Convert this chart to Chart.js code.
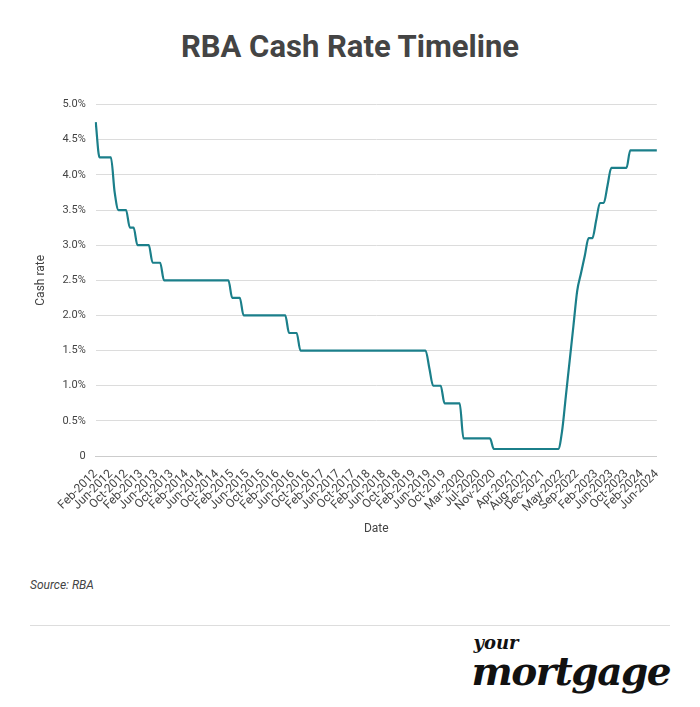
<!DOCTYPE html>
<html>
<head>
<meta charset="utf-8">
<script src="https://cdn.jsdelivr.net/npm/chart.js@4"></script>
<style>
  body { margin: 0; background: #fff; font-family: Roboto, sans-serif; }
  #wrap { width: 700px; height: 707px; position: relative; }
  h1 { position: absolute; top: 28px; left: 0; width: 700px; margin: 0; text-align: center; font-size: 31px; font-weight: 700; color: #444; }
  #chartBox { position: absolute; left: 30px; top: 88px; width: 640px; height: 452px; }
  #source { position: absolute; left: 30px; top: 578px; font-size: 12px; font-style: italic; color: #444; }
  #rule { position: absolute; left: 30px; top: 625px; width: 640px; border-top: 1px solid #ddd; }
  #logo { position: absolute; right: 30px; top: 634px; text-align: left; font-family: "DejaVu Serif", serif; font-weight: 700; font-style: italic; color: #111; line-height: 1; }
  #logo .y { font-size: 18px; display: block; margin-left: 2px; }
  #logo .m { font-size: 39px; letter-spacing: -1.5px; }
</style>
</head>
<body>
<div id="wrap">
  <h1>RBA Cash Rate Timeline</h1>
  <div id="chartBox"><canvas id="rateChart"></canvas></div>
  <div id="source">Source: RBA</div>
  <div id="rule"></div>
  <div id="logo"><span class="y">your</span><span class="m">mortgage</span></div>
</div>
<script>
const monthNames = ['Jan', 'Feb', 'Mar', 'Apr', 'May', 'Jun', 'Jul', 'Aug', 'Sep', 'Oct', 'Nov', 'Dec'];

// monthly cash rate, Feb-2012 .. Jun-2024
const rates2012 = [4.75, 4.25, 4.25, 4.25, 4.25, 3.75, 3.5, 3.5, 3.5, 3.25, 3.25];
const rates2013 = [3.0, 3.0, 3.0, 3.0, 2.75, 2.75, 2.75, 2.5, 2.5, 2.5, 2.5, 2.5];
const rates2014 = [2.5, 2.5, 2.5, 2.5, 2.5, 2.5, 2.5, 2.5, 2.5, 2.5, 2.5, 2.5];
const rates2015 = [2.5, 2.25, 2.25, 2.25, 2.0, 2.0, 2.0, 2.0, 2.0, 2.0, 2.0, 2.0];
const rates2016 = [2.0, 2.0, 2.0, 2.0, 1.75, 1.75, 1.75, 1.5, 1.5, 1.5, 1.5, 1.5];
const rates2017 = [1.5, 1.5, 1.5, 1.5, 1.5, 1.5, 1.5, 1.5, 1.5, 1.5, 1.5, 1.5];
const rates2018 = [1.5, 1.5, 1.5, 1.5, 1.5, 1.5, 1.5, 1.5, 1.5, 1.5, 1.5, 1.5];
const rates2019 = [1.5, 1.5, 1.5, 1.5, 1.5, 1.25, 1.0, 1.0, 1.0, 0.75, 0.75, 0.75];
const rates2020 = [0.75, 0.75, 0.25, 0.25, 0.25, 0.25, 0.25, 0.25, 0.25, 0.25, 0.1, 0.1];
const rates2021 = [0.1, 0.1, 0.1, 0.1, 0.1, 0.1, 0.1, 0.1, 0.1, 0.1, 0.1, 0.1];
const rates2022 = [0.1, 0.1, 0.1, 0.1, 0.35, 0.85, 1.35, 1.85, 2.35, 2.6, 2.85, 3.1];
const rates2023 = [3.1, 3.35, 3.6, 3.6, 3.85, 4.1, 4.1, 4.1, 4.1, 4.1, 4.35, 4.35];
const rates2024 = [4.35, 4.35, 4.35, 4.35, 4.35, 4.35];

const tickLabels = ['Feb-2012', 'Jun-2012', 'Oct-2012', 'Feb-2013', 'Jun-2013', 'Oct-2013', 'Feb-2014', 'Jun-2014',
  'Oct-2014', 'Feb-2015', 'Jun-2015', 'Oct-2015', 'Feb-2016', 'Jun-2016', 'Oct-2016', 'Feb-2017', 'Jun-2017',
  'Oct-2017', 'Feb-2018', 'Jun-2018', 'Oct-2018', 'Feb-2019', 'Jun-2019', 'Oct-2019', 'Mar-2020', 'Jul-2020',
  'Nov-2020', 'Apr-2021', 'Aug-2021', 'Dec-2021', 'May-2022', 'Sep-2022', 'Feb-2023', 'Jun-2023', 'Oct-2023',
  'Feb-2024', 'Jun-2024'];

const yearly = [rates2012, rates2013, rates2014, rates2015, rates2016, rates2017, rates2018,
  rates2019, rates2020, rates2021, rates2022, rates2023, rates2024];

const labels = [];
const values = [];
yearly.forEach((arr, i) => {
  const year = 2012 + i;
  const startMonth = i === 0 ? 1 : 0;
  arr.forEach((v, j) => {
    labels.push(monthNames[startMonth + j] + '-' + year);
    values.push(v);
  });
});

new Chart(document.getElementById('rateChart').getContext('2d'), {
  type: 'line',
  data: {
    labels: labels,
    datasets: [{
      data: values,
      borderColor: '#1b7f8a',
      borderWidth: 2.2,
      pointRadius: 0,
      cubicInterpolationMode: 'monotone',
      fill: false
    }]
  },
  options: {
    responsive: true,
    maintainAspectRatio: false,
    animation: false,
    plugins: { legend: { display: false }, tooltip: { enabled: false } },
    scales: {
      x: {
        grid: { display: false },
        border: { color: '#ccc' },
        title: { display: true, text: 'Date', color: '#444', font: { family: 'Roboto', size: 12 } },
        ticks: {
          autoSkip: false,
          maxRotation: 45,
          minRotation: 45,
          color: '#444',
          font: { family: 'Roboto', size: 12 },
          callback: function (val) {
            const l = this.getLabelForValue(val);
            return tickLabels.includes(l) ? l : null;
          }
        }
      },
      y: {
        min: 0,
        max: 5,
        grid: { color: '#dcdcdc', drawTicks: false },
        border: { display: false },
        title: { display: true, text: 'Cash rate', color: '#444', font: { family: 'Roboto', size: 12 } },
        ticks: {
          stepSize: 0.5,
          padding: 10,
          color: '#444',
          font: { family: 'Roboto', size: 11 },
          callback: v => v === 0 ? '0' : v.toFixed(1) + '%'
        }
      }
    }
  }
});
</script>
</body>
</html>
